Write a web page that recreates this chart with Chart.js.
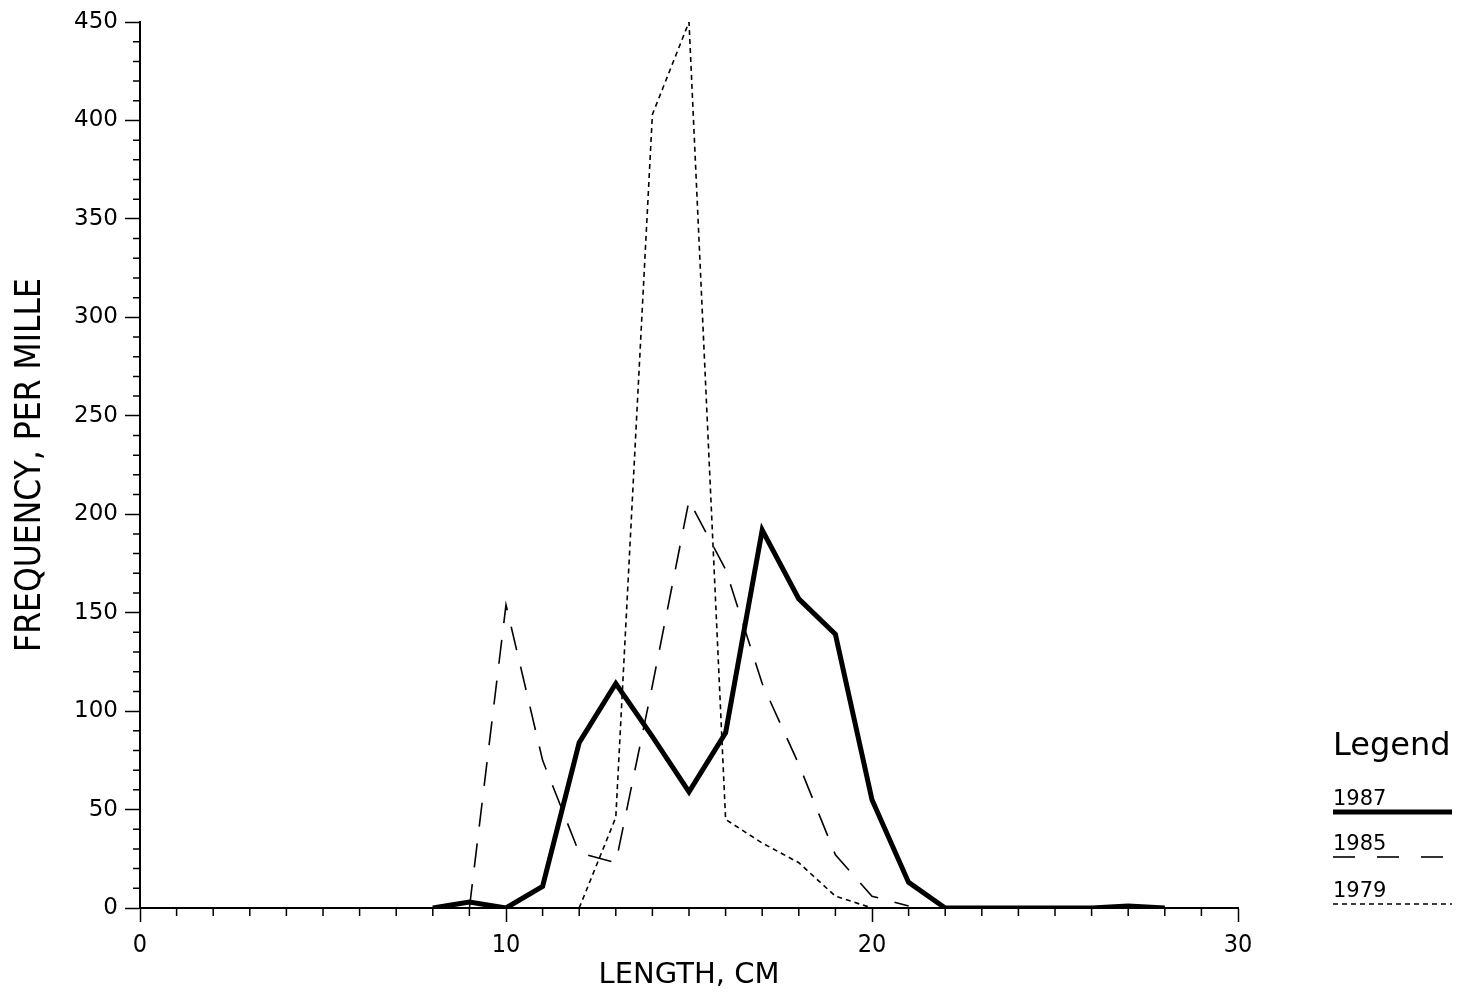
<!DOCTYPE html>
<html>
<head>
<meta charset="utf-8">
<script src="https://cdn.jsdelivr.net/npm/chart.js@4/dist/chart.umd.min.js"></script>
<style>
  html, body { margin: 0; padding: 0; background: #fff; }
  #wrap { position: relative; width: 1459px; height: 999px; }
</style>
</head>
<body>
<div id="wrap"><canvas id="lengthChart"></canvas></div>
<script>
// Length distributions, frequency per mille
const len1987 = [8, 9, 10, 11, 12, 13, 14, 15, 16, 17, 18, 19, 20, 21, 22, 23, 24, 25, 26, 27, 28];
const freq1987 = [0, 3, 0, 11, 84, 114, 87, 59, 89, 192, 157, 139, 55, 13, 0, 0, 0, 0, 0, 1, 0];

const len1985 = [9, 10, 11, 12, 13, 14, 15, 16, 17, 18, 19, 20, 21];
const freq1985 = [0, 154, 75, 28, 23, 113, 207, 172, 114, 73, 27, 6, 1];

const len1979 = [12, 13, 14, 15, 16, 17, 18, 19, 20];
const freq1979 = [0, 46, 403, 450, 45, 33, 23, 6, 0];

const seriesNames = ['1987', '1985', '1979'];
const xTickLabels = [0, 10, 20, 30];
const yTickLabels = [0, 50, 100, 150, 200, 250, 300, 350, 400, 450];

const titleFont = '"Liberation Sans Narrow", "DejaVu Sans Condensed", "Roboto Condensed", sans-serif';

function toPoints(xs, ys) {
    return xs.map((x, i) => ({ x: x, y: ys[i] }));
}

// minor ticks + the legend on the right
const extrasPlugin = {
    id: 'extras',
    afterDraw(chart) {
        const ctx = chart.ctx;
        const xs = chart.scales.x;
        const ys = chart.scales.y;
        ctx.save();
        ctx.strokeStyle = '#000';
        ctx.lineWidth = 1.5;
        ctx.beginPath();
        xs.ticks.forEach(t => {
            if (!xTickLabels.includes(t.value)) {
                const px = xs.getPixelForValue(t.value);
                ctx.moveTo(px, xs.top);
                ctx.lineTo(px, xs.top + 8);
            }
        });
        ys.ticks.forEach(t => {
            if (!yTickLabels.includes(t.value)) {
                const py = ys.getPixelForValue(t.value);
                ctx.moveTo(ys.right, py);
                ctx.lineTo(ys.right - 7, py);
            }
        });
        ctx.stroke();

        // legend
        const lx = 1333, lw = 119;
        ctx.fillStyle = '#000';
        ctx.textAlign = 'left';
        ctx.textBaseline = 'alphabetic';
        ctx.font = '32px "DejaVu Sans", sans-serif';
        ctx.fillText('Legend', lx, 755);
        ctx.font = '21px "DejaVu Sans", sans-serif';
        const rowY = [805, 850, 897];
        chart.data.datasets.forEach((ds, i) => {
            ctx.fillText(ds.label, lx, rowY[i]);
            ctx.beginPath();
            ctx.lineWidth = ds.borderWidth;
            ctx.setLineDash(ds.legendDash || ds.borderDash || []);
            ctx.moveTo(lx, rowY[i] + 7);
            ctx.lineTo(lx + lw, rowY[i] + 7);
            ctx.stroke();
        });
        ctx.restore();
    }
};

new Chart(document.getElementById('lengthChart'), {
    type: 'line',
    data: {
        datasets: [
            {
                label: seriesNames[0],
                data: toPoints(len1987, freq1987),
                borderColor: '#000',
                borderWidth: 5,
                borderJoinStyle: 'miter',
                pointRadius: 0,
                tension: 0
            },
            {
                label: seriesNames[1],
                data: toPoints(len1985, freq1985),
                borderColor: '#000',
                borderWidth: 1.6,
                borderDash: [24, 17],
                legendDash: [22, 22],
                pointRadius: 0,
                tension: 0
            },
            {
                label: seriesNames[2],
                data: toPoints(len1979, freq1979),
                borderColor: '#000',
                borderWidth: 1.6,
                borderDash: [5, 4],
                pointRadius: 0,
                tension: 0
            }
        ]
    },
    options: {
        responsive: true,
        maintainAspectRatio: false,
        animation: false,
        layout: { padding: { top: 22, right: 221, bottom: 0, left: 0 } },
        plugins: {
            legend: { display: false },
            tooltip: { enabled: false }
        },
        scales: {
            x: {
                type: 'linear',
                min: 0,
                max: 30,
                afterFit: function(scale) { scale.height = 91; },
                border: { display: true, color: '#000', width: 2 },
                grid: {
                    drawOnChartArea: false,
                    drawTicks: true,
                    tickLength: 14,
                    tickWidth: 1.5,
                    tickColor: ctx => xTickLabels.includes(ctx.tick.value) ? '#000' : 'rgba(0,0,0,0)'
                },
                ticks: {
                    stepSize: 1,
                    autoSkip: false,
                    maxRotation: 0,
                    padding: 8,
                    color: '#000',
                    font: { family: titleFont, size: 25 },
                    callback: v => xTickLabels.includes(v) ? String(v) : ''
                },
                title: {
                    display: true,
                    text: 'LENGTH, CM',
                    color: '#000',
                    font: { family: '"DejaVu Sans", sans-serif', size: 29 },
                    padding: { top: 0, bottom: 6 }
                }
            },
            y: {
                type: 'linear',
                min: 0,
                max: 450,
                afterFit: function(scale) { scale.width = 140; },
                border: { display: true, color: '#000', width: 2 },
                grid: {
                    drawOnChartArea: false,
                    drawTicks: true,
                    tickLength: 15,
                    tickWidth: 1.5,
                    tickColor: ctx => yTickLabels.includes(ctx.tick.value) ? '#000' : 'rgba(0,0,0,0)'
                },
                ticks: {
                    stepSize: 10,
                    autoSkip: false,
                    padding: 7,
                    color: '#000',
                    font: { family: '"DejaVu Sans", sans-serif', size: 23 },
                    callback: v => yTickLabels.includes(v) ? String(v) : ''
                },
                title: {
                    display: true,
                    text: 'FREQUENCY, PER MILLE',
                    color: '#000',
                    font: { family: titleFont, size: 35 },
                    padding: { top: 10, bottom: 0 }
                }
            }
        }
    },
    plugins: [extrasPlugin]
});
</script>
</body>
</html>
